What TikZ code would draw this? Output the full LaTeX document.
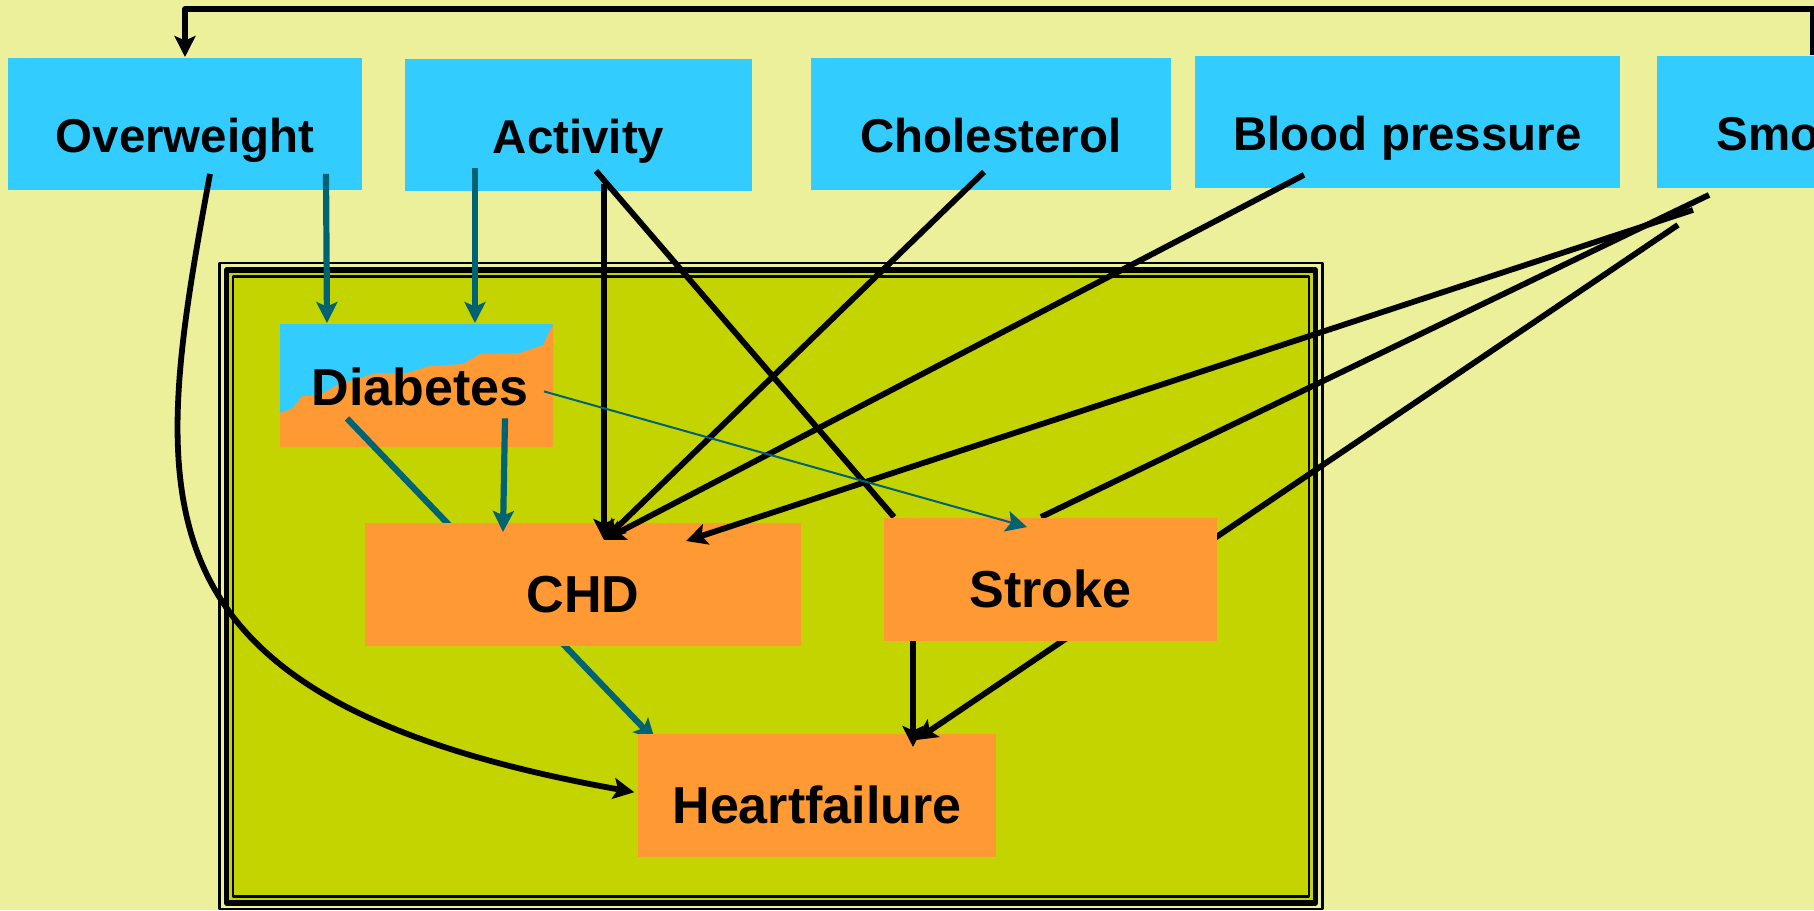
\documentclass[tikz,border=0pt]{standalone}
\usepackage{fontspec}
\setmainfont{Liberation Sans}
\usetikzlibrary{arrows.meta}
\definecolor{paleyellow}{RGB}{236,240,155}
\definecolor{skyblue}{RGB}{51,204,255}
\definecolor{riskorange}{RGB}{255,153,51}
\definecolor{leafgreen}{RGB}{196,212,0}
\definecolor{tealline}{RGB}{0,99,115}
\begin{document}
\begin{tikzpicture}[x=0.1mm,y=-0.1mm,>={Stealth[length=2.1mm,width=2.1mm,inset=0.45mm]}, line join=round,
	riskbox/.style={fill=skyblue, anchor=north, inner sep=0pt, text height=9.5mm, text depth=3.75mm, font=\fontsize{13.5}{16}\selectfont\bfseries},
	outcomebox/.style={fill=riskorange, anchor=north, inner sep=0pt, text height=9mm, text depth=3.3mm, font=\fontsize{14.8}{18}\selectfont\bfseries},
	link/.style={line width=0.58mm, black},
	teal link/.style={line width=0.62mm, tealline}]
	\useasboundingbox (0,0) rectangle (1814,910);
	\fill[paleyellow] (0,0) rectangle (1814,910);
	% frame
	\draw[line width=0.23mm] (219.5,263) rectangle (1322.5,909);
	\draw[fill=leafgreen, line width=0.53mm] (226.7,270) rectangle (1315.5,903);
	\draw[line width=0.23mm] (232.8,276.5) rectangle (1309,896.5);
	\fill[skyblue] (280,324) rectangle (553,447);
	\fill[riskorange] (280,413) -- (293,408) -- (302,396) -- (320,395) -- (337,385) -- (377,373) -- (407,373) -- (430,366) -- (463,364) -- (480,354) -- (520,353) -- (543,345) -- (553,324) -- (553,447) -- (280,447) -- cycle;
	% risk factors
	\node[riskbox, minimum width=35.4mm] (ow) at (185,57) {Overweight};
	\node[riskbox, minimum width=34.7mm] (act) at (578.5,58) {Activity};
	\node[riskbox, minimum width=36mm] (chol) at (991,57) {Cholesterol};
	\node[riskbox, minimum width=42.5mm] (bp) at (1407.5,55) {Blood pressure};
	\node[riskbox, minimum width=32mm] (smoke) at (1817,55) {Smoking};
	% outcomes, with the links that run under them
	\node[outcomebox, fill=none, text height=8.1mm, text depth=4.2mm] (diab) at (420,324) {Diabetes};
	\coordinate (hf tip) at (655,740);
	\draw[teal link,->] ([shift={(-73,-30)}]diab.south) -- (hf tip);
	\node[outcomebox, minimum width=35.8mm] (hf) at (817,733) {Heartfailure};
	\draw[link,->] ([shift={(-139,36)}]smoke.south) -- ([shift={(99,7)}]hf.north);
	\coordinate (stroke in1) at (894,517);
	\coordinate (stroke in2) at (1041,517);
	\draw[link] ([shift={(17.5,-21)}]act.south) -- (stroke in1);
	\draw[link] ([shift={(-108,6)}]smoke.south) -- (stroke in2);
	\node[outcomebox, minimum width=43.6mm] (chd) at (583,522) {CHD};
	\node[outcomebox, minimum width=33.3mm] (stroke) at (1050.5,517) {Stroke};
	% black links
	\draw[link, line width=0.55mm, ->] ([xshift=-0.4mm]smoke.north) -- ++(0,-46) -| (ow.north);
	\draw[link,->] ([shift={(25,-17)}]ow.south) .. controls (150,500) and (120,700) .. ([shift={(-3,-3)}]hf.west);
	\draw[link,->] ([shift={(25.5,-8)}]act.south) -- ([shift={(21,18)}]chd.north);
	\draw[link,->] ([shift={(-7,-19)}]chol.south) -- ([shift={(21,18)}]chd.north);
	\draw[link,->] ([shift={(-103.5,-14)}]bp.south) -- ([shift={(21,18)}]chd.north);
	\draw[link,->] ([shift={(-124,21)}]smoke.south) -- ([shift={(103,19)}]chd.north);
	\draw[link,->] ([shift={(-137.5,0)}]stroke.south) -- ([shift={(96,14)}]hf.north);
	% teal links
	\draw[teal link,->] ([shift={(141,-17)}]ow.south) -- ([shift={(-93,-1)}]diab.north);
	\draw[teal link,->] ([shift={(-103.5,-24)}]act.south) -- ([shift={(55,-1)}]diab.north);
	\draw[teal link,->] ([shift={(85,-30)}]diab.south) -- ([shift={(-80,10)}]chd.north);
	\draw[teal link, line width=0.2mm,->] ([shift={(124,-57)}]diab.south) -- ([shift={(-23.5,10)}]stroke.north);
\end{tikzpicture}
\end{document}
